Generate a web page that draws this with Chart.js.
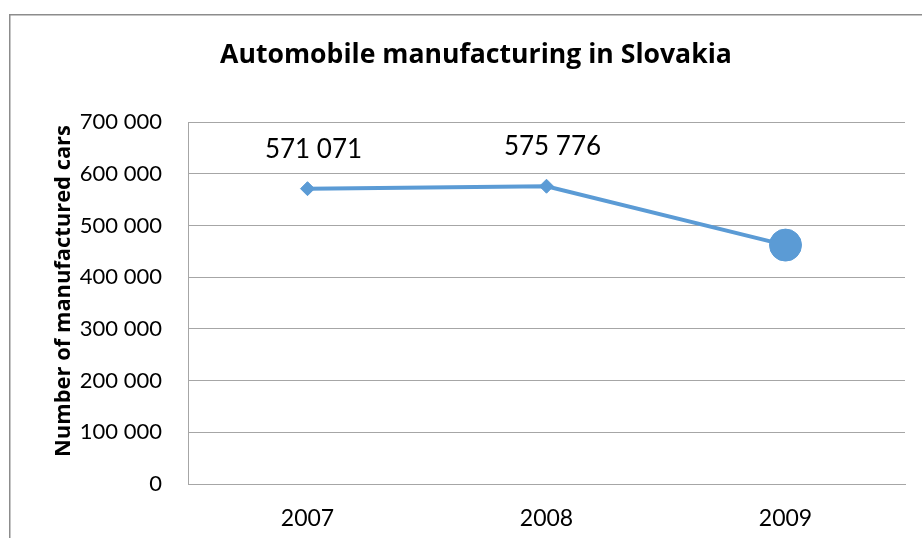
<!DOCTYPE html>
<html>
<head>
<meta charset="utf-8">
<script src="https://cdn.jsdelivr.net/npm/chart.js@4"></script>
<style>
  html, body { margin: 0; padding: 0; background: #fff; }
  #wrap { position: relative; width: 922px; height: 538px; }
</style>
</head>
<body>
<div id="wrap"><canvas id="carsChart" width="922" height="538"></canvas></div>
<script>
const years = ['2007', '2008', '2009'];
const carsMade = [571071, 575776, 462000];
const showValue = [true, true, false];
const markerStyle = ['rectRot', 'rectRot', 'circle'];
const markerSize = [7, 7, 16];

const chartTitle = 'Automobile manufacturing in Slovakia';
const yTitle = 'Number of manufactured cars';

const FONT = 'Lato, "Open Sans", sans-serif';
const BOLD_FONT = '"Open Sans", Lato, sans-serif';
const BLUE = '#5b9bd5';
const GRID = '#a6a6a6';

function spaced(v) {
    return String(Math.round(v)).replace(/\B(?=(\d{3})+(?!\d))/g, ' ');
}

// fit a string to a width by shrinking the font size
function fitFont(ctx, text, weight, family, width) {
    let size = 30;
    ctx.font = `${weight} ${size}px ${family}`;
    const w = ctx.measureText(text).width;
    size = size * width / w;
    ctx.font = `${weight} ${size}px ${family}`;
}

// frame, title, axis title and value labels drawn by hand
const decorations = {
    id: 'decorations',
    beforeDraw(chart) {
        const ctx = chart.ctx;
        ctx.save();
        ctx.strokeStyle = '#8c8c8c';
        ctx.lineWidth = 1.5;
        ctx.strokeRect(9.75, 14.75, 2000, 2000);
        ctx.restore();
    },
    afterDraw(chart) {
        const ctx = chart.ctx;
        ctx.save();
        ctx.fillStyle = '#000';
        ctx.textAlign = 'center';
        ctx.textBaseline = 'alphabetic';
        fitFont(ctx, chartTitle, 'bold', BOLD_FONT, 512);
        ctx.fillText(chartTitle, 476, 63);

        ctx.save();
        ctx.translate(70, 291);
        ctx.rotate(-Math.PI / 2);
        fitFont(ctx, yTitle, 'bold', BOLD_FONT, 332);
        ctx.fillText(yTitle, 0, 0);
        ctx.restore();

        ctx.font = '26px ' + FONT;
        const meta = chart.getDatasetMeta(0);
        meta.data.forEach((pt, i) => {
            if (!showValue[i]) return;
            ctx.fillText(spaced(carsMade[i]), pt.x + 6, pt.y - 31);
        });
        ctx.restore();
    }
};

const ctx = document.getElementById('carsChart');
new Chart(ctx, {
    type: 'line',
    data: {
        labels: years,
        datasets: [{
            label: 'Cars',
            data: carsMade,
            borderColor: BLUE,
            backgroundColor: BLUE,
            borderWidth: 4,
            tension: 0,
            pointStyle: markerStyle,
            pointRadius: markerSize,
            pointBackgroundColor: BLUE,
            pointBorderColor: BLUE,
            pointBorderWidth: 1,
        }]
    },
    options: {
        responsive: false,
        animation: false,
        devicePixelRatio: 1,
        layout: { padding: { top: 122, left: 0, right: 8, bottom: 0 } },
        plugins: {
            legend: { display: false },
            title: { display: false },
            tooltip: { enabled: false },
        },
        scales: {
            x: {
                offset: true,
                grid: { display: false, drawTicks: false },
                border: { display: true, color: GRID, width: 1 },
                ticks: { color: '#000', font: { family: FONT, size: 23 }, padding: 21 },
                afterFit(scale) { scale.height = 54; },
            },
            y: {
                min: 0,
                max: 700000,
                grid: { color: GRID, lineWidth: 1, drawTicks: false },
                border: { display: true, color: GRID, width: 1 },
                ticks: {
                    stepSize: 100000,
                    color: '#000',
                    font: { family: FONT, size: 22 },
                    padding: 26,
                    callback: v => spaced(v),
                },
                afterFit(scale) { scale.width = 188; },
            }
        }
    },
    plugins: [decorations]
});
</script>
</body>
</html>
